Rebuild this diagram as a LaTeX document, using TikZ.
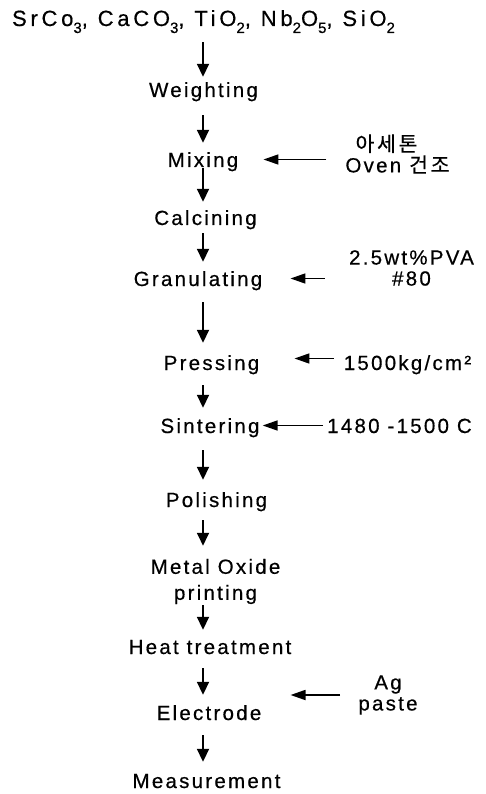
\documentclass[tikz,border=0pt]{standalone}
\usepackage{fontspec}
\setmainfont{Liberation Sans}[LetterSpace=11,FakeBold=0.5]
\newfontfamily\kofont{Noto Sans CJK KR}[LetterSpace=13,FakeBold=0.4]
\usetikzlibrary{arrows.meta}
% lowered small index for the chemical formulas
\newcommand\lowidx[1]{\raisebox{-7pt}{\fontsize{15}{15}\selectfont #1}}
\begin{document}
\begin{tikzpicture}[x=1pt,y=-1pt,
  lbl/.style={inner sep=0pt, font=\fontsize{20.5}{26}\selectfont},
  stepbox/.style={lbl, text height=15pt, text depth=0pt, anchor=base},
  note/.style={inner sep=0pt, align=center, font=\fontsize{20.5}{21}\selectfont},
  twoline/.style={lbl, align=center},
  varr/.style={line width=1.8pt, -{Triangle[length=13pt,width=12pt]}},
  harr/.style={line width=1.7pt, -{Triangle[length=15pt,width=10pt]}}]
\useasboundingbox (0,0) rectangle (486,794);
\coordinate (spine) at (203,0);

% process steps
\node[stepbox, font=\fontsize{22}{26}\selectfont\addfontfeatures{LetterSpace=17}] (src) at (203.5,26)
  {SrCo\lowidx{3}, CaCO\lowidx{3}, TiO\lowidx{2}, Nb\lowidx{2}O\lowidx{5}, SiO\lowidx{2}};
\node[stepbox] (weigh) at (203.5,97)  {Weighting};
\node[stepbox] (mix)   at (203,167)   {Mixing};
\node[stepbox] (calc)  at (205.5,225) {Calcining};
\node[stepbox] (gran)  at (198,286)   {Granulating};
\node[stepbox] (press) at (211.5,370) {Pressing};
\node[stepbox] (sint)  at (210,433)   {Sintering};
\node[stepbox] (pol)   at (216.5,507) {Polishing};
\node[twoline] (mo)    at (215.5,581.5) {Metal Oxide\\printing};
\node[stepbox] (heat)  at (210,654)   {Heat treatment};
\node[stepbox] (elec)  at (209,720)   {Electrode};
\node[stepbox] (meas)  at (206.5,788) {Measurement};

% process conditions
\node[note] (acet) at (397.5,154) {{\kofont 아세톤}\hspace*{22pt}\\Oven {\kofont 건조}};
\node[note] (pva)  at (411.5,268) {2.5wt\%PVA\\\#80};
\node[stepbox] (kg)   at (407.5,370) {1500kg/cm²};
\node[stepbox] (temp) at (399.5,433) {1480 -1500 C};
\node[note] (ag)   at (388,695) {Ag\\paste};

% main flow
\draw[varr, shorten <=16pt, shorten >=5pt]  (spine |- src.south)   -- (spine |- weigh.north);
\draw[varr, shorten <=18pt, shorten >=9pt]  (spine |- weigh.south) -- (spine |- mix.north);
\draw[varr, shorten <=1pt,  shorten >=8pt]  (spine |- mix.south)   -- (spine |- calc.north);
\draw[varr, shorten <=8pt,  shorten >=9pt]  (spine |- calc.south)  -- (spine |- gran.north);
\draw[varr, shorten <=16pt, shorten >=12pt] (spine |- gran.south)  -- (spine |- press.north);
\draw[varr, shorten <=15pt, shorten >=10pt] (spine |- press.south) -- (spine |- sint.north);
\draw[varr, shorten <=17pt, shorten >=12pt] (spine |- sint.south)  -- (spine |- pol.north);
\draw[varr, shorten <=13pt, shorten >=13pt] (spine |- pol.south)   -- (spine |- mo.north);
\draw[varr, shorten <=1pt,  shorten >=9pt]  (spine |- mo.south)    -- (spine |- heat.north);
\draw[varr, shorten <=14pt, shorten >=10pt] (spine |- heat.south)  -- (spine |- elec.north);
\draw[varr, shorten <=15pt, shorten >=11pt] (spine |- elec.south)  -- (spine |- meas.north);

% condition inputs
\draw[harr, shorten <=19pt, shorten >=25pt] (acet.west |- mix) -- (mix.east);
\draw[harr, shorten <=24pt, shorten >=28pt] (pva.west |- gran) -- (gran.east);
\draw[harr, shorten <=10pt, shorten >=35pt, transform canvas={yshift=4pt}] (kg.west |- press) -- (press.east);
\draw[harr, shorten <=4pt,  shorten >=3pt]  (temp.west |- sint) -- (sint.east);
\draw[harr, shorten <=18pt, shorten >=29pt] (ag.west) -- (ag.west -| elec.east);
\end{tikzpicture}
\end{document}
